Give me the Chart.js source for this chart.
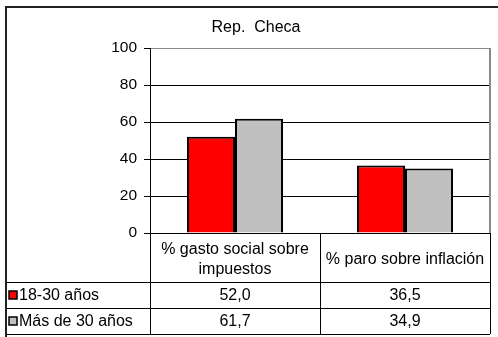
<!DOCTYPE html>
<html>
<head>
<meta charset="utf-8">
<script src="https://cdn.jsdelivr.net/npm/chart.js@4/dist/chart.umd.min.js"></script>
<style>
    html, body { margin: 0; padding: 0; background: #fff; }
    canvas { display: block; }
</style>
</head>
<body>
<canvas id="chart" width="498" height="337"></canvas>
<script>
// Data
const title = 'Rep.  Checa';
const categories = [['% gasto social sobre', 'impuestos'], ['% paro sobre inflación']];
const seriesNames = ['18-30 años', 'Más de 30 años'];
const young = [52.0, 36.5];
const older = [61.7, 34.9];
const yTicks = [0, 20, 40, 60, 80, 100];

const FONT = '"Liberation Sans", Arial, sans-serif';
const colors = ['#ff0000', '#c0c0c0'];

const fmt = v => v.toFixed(1).replace('.', ',');

// frame, title and the data table under the plot
const tablePlugin = {
    id: 'tablePlugin',
    afterDraw(chart) {
        const ctx = chart.ctx;
        const area = chart.chartArea;
        const x = chart.scales.x;
        const series = chart.data.datasets;

        ctx.save();

        // outer frame
        ctx.strokeStyle = '#222';
        ctx.lineWidth = 2;
        ctx.beginPath();
        ctx.moveTo(6, 340);
        ctx.lineTo(6, 7);
        ctx.lineTo(500, 7);
        ctx.stroke();

        // title
        ctx.fillStyle = '#000';
        ctx.font = '16px ' + FONT;
        ctx.textAlign = 'center';
        ctx.textBaseline = 'middle';
        ctx.fillText(title, 256, 28);

        // plot area right edge
        ctx.strokeStyle = '#8a8a8a';
        ctx.lineWidth = 2;
        ctx.beginPath();
        ctx.moveTo(area.right, area.top);
        ctx.lineTo(area.right, area.bottom);
        ctx.stroke();

        // table grid
        const rowY = [area.bottom, 282, 308, 334];
        const colX = [6, area.left, (area.left + area.right) / 2, area.right];
        ctx.strokeStyle = '#000';
        ctx.lineWidth = 1;
        ctx.beginPath();
        for (let r = 1; r < rowY.length; r++) {
            ctx.moveTo(colX[0], rowY[r] + 0.5);
            ctx.lineTo(colX[3], rowY[r] + 0.5);
        }
        for (let c = 1; c < colX.length; c++) {
            ctx.moveTo(Math.round(colX[c]) + 0.5, rowY[0]);
            ctx.lineTo(Math.round(colX[c]) + 0.5, rowY[3]);
        }
        ctx.stroke();

        // category headers
        ctx.fillStyle = '#000';
        ctx.textAlign = 'center';
        categories.forEach((lines, i) => {
            const cx = x.getPixelForValue(i);
            const mid = (rowY[0] + rowY[1]) / 2 + 2;
            const lh = 20;
            lines.forEach((t, k) => {
                ctx.fillText(t, cx, mid + (k - (lines.length - 1) / 2) * lh);
            });
        });

        // series rows: legend key, name, values
        series.forEach((ds, s) => {
            const cy = (rowY[s + 1] + rowY[s + 2]) / 2 + 1;
            ctx.fillStyle = ds.backgroundColor;
            ctx.fillRect(9, cy - 5, 8, 8);
            ctx.strokeStyle = '#000';
            ctx.lineWidth = 1.5;
            ctx.strokeRect(9, cy - 5, 8, 8);

            ctx.fillStyle = '#000';
            ctx.textAlign = 'left';
            ctx.fillText(ds.label, 19, cy);
            ctx.textAlign = 'center';
            ds.data.forEach((v, i) => {
                ctx.fillText(fmt(v), x.getPixelForValue(i), cy);
            });
        });

        ctx.restore();
    }
};

new Chart(document.getElementById('chart'), {
    type: 'bar',
    data: {
        labels: categories,
        datasets: [
            { label: seriesNames[0], data: young, backgroundColor: colors[0] },
            { label: seriesNames[1], data: older, backgroundColor: colors[1] }
        ]
    },
    options: {
        responsive: false,
        animation: false,
        devicePixelRatio: 1,
        layout: { padding: { top: 48, right: 8, bottom: 104, left: 0 } },
        datasets: {
            bar: {
                borderColor: '#000',
                borderWidth: 2,
                categoryPercentage: 0.565,
                barPercentage: 1
            }
        },
        plugins: {
            legend: { display: false },
            tooltip: { enabled: false }
        },
        scales: {
            x: { display: false },
            y: {
                min: 0,
                max: 100,
                afterBuildTicks(scale) {
                    scale.ticks = yTicks.map(v => ({ value: v }));
                },
                afterFit(scale) {
                    scale.width = 150;
                },
                ticks: {
                    color: '#000',
                    font: { family: FONT, size: 15.5 },
                    padding: 7
                },
                grid: {
                    color: c => (c.tick && c.tick.value === 100 ? '#8a8a8a' : '#000'),
                    tickColor: '#000',
                    tickLength: 6
                },
                border: { color: '#000', width: 1 }
            }
        }
    },
    plugins: [tablePlugin]
});
</script>
</body>
</html>
